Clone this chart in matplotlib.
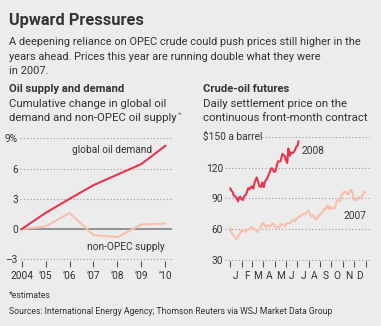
import datetime as dt
import matplotlib
matplotlib.use("Agg")
import matplotlib.pyplot as plt
from matplotlib import font_manager

# ---- data -------------------------------------------------------------
years = [2004, 2005, 2006, 2007, 2008, 2009, 2010]
year_labels = ["2004", "\u201905", "\u201906", "\u201907", "\u201908", "\u201909", "\u201910"]
demand = [0.0, 1.6, 3.0, 4.35, 5.4, 6.45, 8.25]
supply = [0.0, 0.25, 1.6, -0.6, -0.8, 0.45, 0.55]

dates_2008 = ["01-02", "01-04", "01-08", "01-11", "01-15", "01-18", "01-23", "01-25", "01-29",
              "02-01", "02-05", "02-08", "02-12", "02-15", "02-19", "02-22", "02-26", "02-29",
              "03-04", "03-07", "03-11", "03-13", "03-17", "03-20", "03-25", "03-28",
              "04-01", "04-04", "04-08", "04-11", "04-15", "04-18", "04-22", "04-25", "04-29",
              "05-02", "05-06", "05-09", "05-13", "05-16", "05-21", "05-23", "05-28", "05-30",
              "06-03", "06-06", "06-10", "06-13", "06-17", "06-20", "06-24", "06-27", "07-01", "07-03"]
price_2008 = [99.6, 97.9, 96.3, 92.7, 91.9, 90.6, 87.0, 90.7, 91.6,
              89.0, 88.4, 91.8, 93.3, 95.5, 100.0, 98.8, 100.9, 101.8,
              99.5, 105.1, 108.8, 110.3, 105.7, 101.8, 101.2, 105.6,
              100.9, 106.2, 108.5, 110.1, 113.8, 116.7, 119.4, 118.5, 115.6,
              116.3, 121.8, 126.0, 125.8, 126.3, 133.2, 132.2, 131.0, 127.4,
              124.3, 138.5, 131.3, 134.9, 134.0, 134.6, 137.0, 140.2, 141.0, 145.3]

dates_2007 = ["01-02", "01-05", "01-10", "01-12", "01-17", "01-18", "01-22", "01-25", "01-30",
              "02-02", "02-07", "02-12", "02-16", "02-21", "02-26",
              "03-01", "03-05", "03-09", "03-14", "03-16", "03-21", "03-26", "03-29",
              "04-03", "04-09", "04-13", "04-17", "04-20", "04-26",
              "05-01", "05-04", "05-09", "05-15", "05-18", "05-23", "05-29",
              "06-01", "06-06", "06-11", "06-15", "06-20", "06-26", "06-29",
              "07-05", "07-10", "07-13", "07-18", "07-23", "07-27", "07-31",
              "08-03", "08-08", "08-14", "08-16", "08-21", "08-24", "08-29",
              "09-04", "09-07", "09-12", "09-14", "09-19", "09-20", "09-25", "09-28",
              "10-03", "10-09", "10-12", "10-16", "10-19", "10-24", "10-29", "10-31",
              "11-02", "11-07", "11-12", "11-15", "11-20", "11-23", "11-27", "11-30",
              "12-04", "12-07", "12-11", "12-14", "12-19", "12-24", "12-28", "12-31"]
price_2007 = [61.0, 56.3, 54.0, 53.0, 51.2, 50.5, 51.9, 54.2, 57.0,
              59.0, 57.7, 57.8, 59.4, 60.1, 61.4,
              61.8, 60.1, 60.0, 58.2, 57.1, 59.6, 62.9, 66.0,
              64.6, 61.5, 63.6, 63.1, 63.4, 65.8,
              63.7, 61.9, 61.6, 62.5, 64.9, 64.2, 63.1,
              65.1, 66.0, 65.6, 67.9, 69.1, 67.8, 70.7,
              71.8, 72.8, 73.9, 75.0, 74.9, 77.0, 78.2,
              75.5, 72.4, 73.4, 71.0, 69.3, 71.1, 74.0,
              75.1, 76.7, 80.1, 79.1, 81.9, 83.3, 79.5, 81.7,
              79.9, 80.3, 83.7, 87.6, 88.6, 87.1, 93.5, 94.5,
              95.9, 96.4, 94.6, 93.4, 98.0, 98.2, 94.4, 88.7,
              88.3, 88.3, 90.8, 91.3, 90.5, 93.3, 96.0, 96.0]

months = ["J", "F", "M", "A", "M", "J", "J", "A", "S", "O", "N", "D"]


def day_of_year(md, year):
    m, d = map(int, md.split("-"))
    return (dt.date(year, m, d) - dt.date(year, 1, 1)).days


# ---- style ------------------------------------------------------------
available = {f.name for f in font_manager.fontManager.ttflist}
family = "Liberation Sans Narrow" if "Liberation Sans Narrow" in available else "Roboto"
plt.rcParams["font.family"] = [family, "DejaVu Sans"]

BG = "#ececec"
TXT = "#333333"
RED = "#e8354f"
PALE = "#fbbfa9"
GRID = "#9a9a9a"
TICK = 7.3

W, H = 381, 326
fig = plt.figure(figsize=(W / 100, H / 100), dpi=100, facecolor=BG)


def px(x, y):
    return x / W, 1 - y / H


def text(x, y, s, size, **kw):
    kw.setdefault("color", TXT)
    kw.setdefault("va", "center")
    return fig.text(*px(x, y), s, fontsize=size, **kw)


text(9, 21, "Upward Pressures", 11.8, weight="bold")
text(9, 42, "A deepening reliance on OPEC crude could push prices still higher in the", 7.95)
text(9, 56.5, "years ahead. Prices this year are running double what they were", 7.95)
text(9, 71, "in 2007.", 7.95)

text(9, 89, "Oil supply and demand", 8.1, weight="bold")
text(9, 103.5, "Cumulative change in global oil", 8.2)
sub = text(9, 118, "demand and non-OPEC oil supply", 8.2)
# small raised asterisk right after the subtitle
fig.add_artist(plt.Annotation("*", xy=(1, 0.85), xycoords=sub, xytext=(0.8, 0),
                              textcoords="offset points", fontsize=6, color="#777777",
                              ha="left", va="center"))
text(203, 89, "Crude-oil futures", 8.1, weight="bold")
text(203, 103.5, "Daily settlement price on the", 8.2)
text(203, 118, "continuous front-month contract", 8.2)

text(9, 295, "*estimates", 6.2)
text(9, 311.5, "Sources: International Energy Agency; Thomson Reuters via WSJ Market Data Group", 6.2)


def make_axes(left, right, top, bottom):
    ax = fig.add_axes([left / W, 1 - bottom / H, (right - left) / W, (bottom - top) / H])
    ax.set_facecolor("none")
    for s in ax.spines.values():
        s.set_visible(False)
    ax.tick_params(axis="y", length=0, pad=1.5, labelsize=TICK, labelcolor=TXT)
    ax.tick_params(axis="x", length=4.5, width=0.8, color="#555555", pad=3,
                   labelsize=TICK, labelcolor=TXT)
    return ax


# ---- left chart -------------------------------------------------------
ax1 = make_axes(20, 172, 138.3, 260.5)
ax1.set_xlim(2003.93, 2010.28)
ax1.set_ylim(-3.12, 9)
for v in [9, 6, 3, -3]:
    ax1.axhline(v, color=GRID, lw=0.8, ls=(0, (1, 2)))
ax1.axhline(0, color="#8a8a8a", lw=1.3)
ax1.plot(years, supply, color=PALE, lw=1.5)
ax1.plot(years, demand, color=RED, lw=1.5)
ax1.set_yticks([9, 6, 3, 0, -3])
ax1.set_yticklabels(["9%", "6", "3", "0", "\u20133"])
ax1.set_xticks(years)
ax1.set_xticklabels(year_labels)
ax1.text(2007.76, 7.83, "global oil demand", fontsize=TICK, color=TXT, ha="center", va="center")
ax1.text(2008.37, -1.74, "non-OPEC supply", fontsize=TICK, color=TXT, ha="center", va="center")

# ---- right chart ------------------------------------------------------
ax2 = make_axes(225, 370, 136.7, 260.5)
ax2.set_xlim(-13.4, 376.6)
ax2.set_ylim(29.5, 150)
x08 = [day_of_year(d, 2008) for d in dates_2008]
x07 = [day_of_year(d, 2007) for d in dates_2007]
for v in [120, 90, 60, 30]:
    ax2.axhline(v, color=GRID, lw=0.8, ls=(0, (1, 2)))
ax2.hlines(150, 85, 376.6, color=GRID, lw=0.8, ls=(0, (1, 2)))
ax2.plot(x07, price_2007, color=PALE, lw=1.5)
ax2.plot(x08, price_2008, color=RED, lw=1.5)
ax2.set_yticks([120, 90, 60, 30])
ax2.set_yticklabels(["120", "90", "60", "30"])
month_starts = [day_of_year("%02d-01" % m, 2007) for m in range(1, 13)] + [365]
ax2.set_xticks(month_starts)
ax2.set_xticklabels([])
mids = [(a + b) / 2 for a, b in zip(month_starts[:-1], month_starts[1:])]
ax2.set_xticks(mids, minor=True)
ax2.set_xticklabels(months, minor=True)
ax2.tick_params(axis="x", which="minor", length=0, pad=7.5, labelsize=TICK, labelcolor=TXT)
fig.text(*px(203, 136.7), "$150 a barrel", fontsize=TICK, color=TXT, va="center")
ax2.text(193, 136.3, "2008", fontsize=TICK, color=TXT, ha="left", va="center")
ax2.text(306, 73.2, "2007", fontsize=TICK, color=TXT, ha="left", va="center")

fig.savefig("out.png", dpi=100, facecolor=BG)
